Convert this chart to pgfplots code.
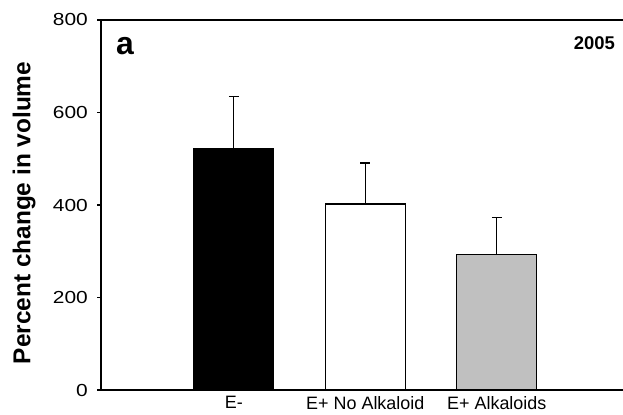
\documentclass[border=0pt]{standalone}
\usepackage{graphicx}
\usepackage{pgfplots}
\pgfplotsset{compat=1.18}
\usepackage{fontspec}
\setmainfont{Liberation Sans}
\setsansfont{Liberation Sans}
\definecolor{bargray}{RGB}{192,192,192}
\begin{document}
\begin{tikzpicture}[x=1bp,y=1bp]
\useasboundingbox (0,0) rectangle (623,414);
\begin{axis}[
  at={(101bp,24bp)}, anchor=south west,
  scale only axis, width=522bp, height=370bp,
  xmin=-1.01, xmax=2.96, ymin=0, ymax=800,
  axis lines=left,
  axis line style={-, line width=1.4bp, black},
  ytick={0,200,400,600,800},
  yticklabel={\scalebox{1.2}[1]{\fontsize{17.5}{17.5}\selectfont\pgfmathprintnumber[assume math mode=true]{\tick}}},
  xtick={0,1,2},
  xticklabels={E-, E+ No Alkaloid, E+ Alkaloids},
  x tick style={draw=none},
  y tick style={line width=1.2bp, black},
  tick align=outside,
  major tick length=4bp,
  yticklabel style={inner sep=0pt, xshift=-9bp},
  xticklabel style={font=\fontsize{18}{18}\selectfont, inner sep=0pt, yshift=-2bp},
  clip=false,
  error bars/error mark=-,
  error bars/error mark options={rotate=90, line width=1.2bp, black, mark size=5bp},
]
\addplot[ybar, bar width=80bp, bar shift=0pt, fill=black, draw=black, line width=1.2bp,
  error bars/.cd, y dir=plus, y explicit,
  error bar style={line width=1.2bp, black}]
  coordinates {(0,521) +- (0,113)};
\addplot[ybar, bar width=80bp, bar shift=0pt, fill=white, draw=black, line width=1.2bp,
  error bars/.cd, y dir=plus, y explicit,
  error bar style={line width=1.2bp, black}]
  coordinates {(1,402) +- (0,89)};
\addplot[ybar, bar width=80bp, bar shift=0pt, fill=bargray, draw=black, line width=1.2bp,
  error bars/.cd, y dir=plus, y explicit,
  error bar style={line width=1.2bp, black}]
  coordinates {(2,293) +- (0,80)};
\draw[line width=1.4bp, black] (rel axis cs:0,1) -- (rel axis cs:1,1);
\end{axis}
\node[rotate=90, anchor=center, inner sep=0pt, font=\bfseries\fontsize{24.5}{24.5}\selectfont] at (24,201) {Percent change in volume};
\node[anchor=center, inner sep=0pt, font=\bfseries\fontsize{32}{32}\selectfont] at (125,367.5) {a};
\node[anchor=east, inner sep=0pt, font=\bfseries\fontsize{18.5}{18.5}\selectfont] at (615,371) {2005};
\end{tikzpicture}
\end{document}
